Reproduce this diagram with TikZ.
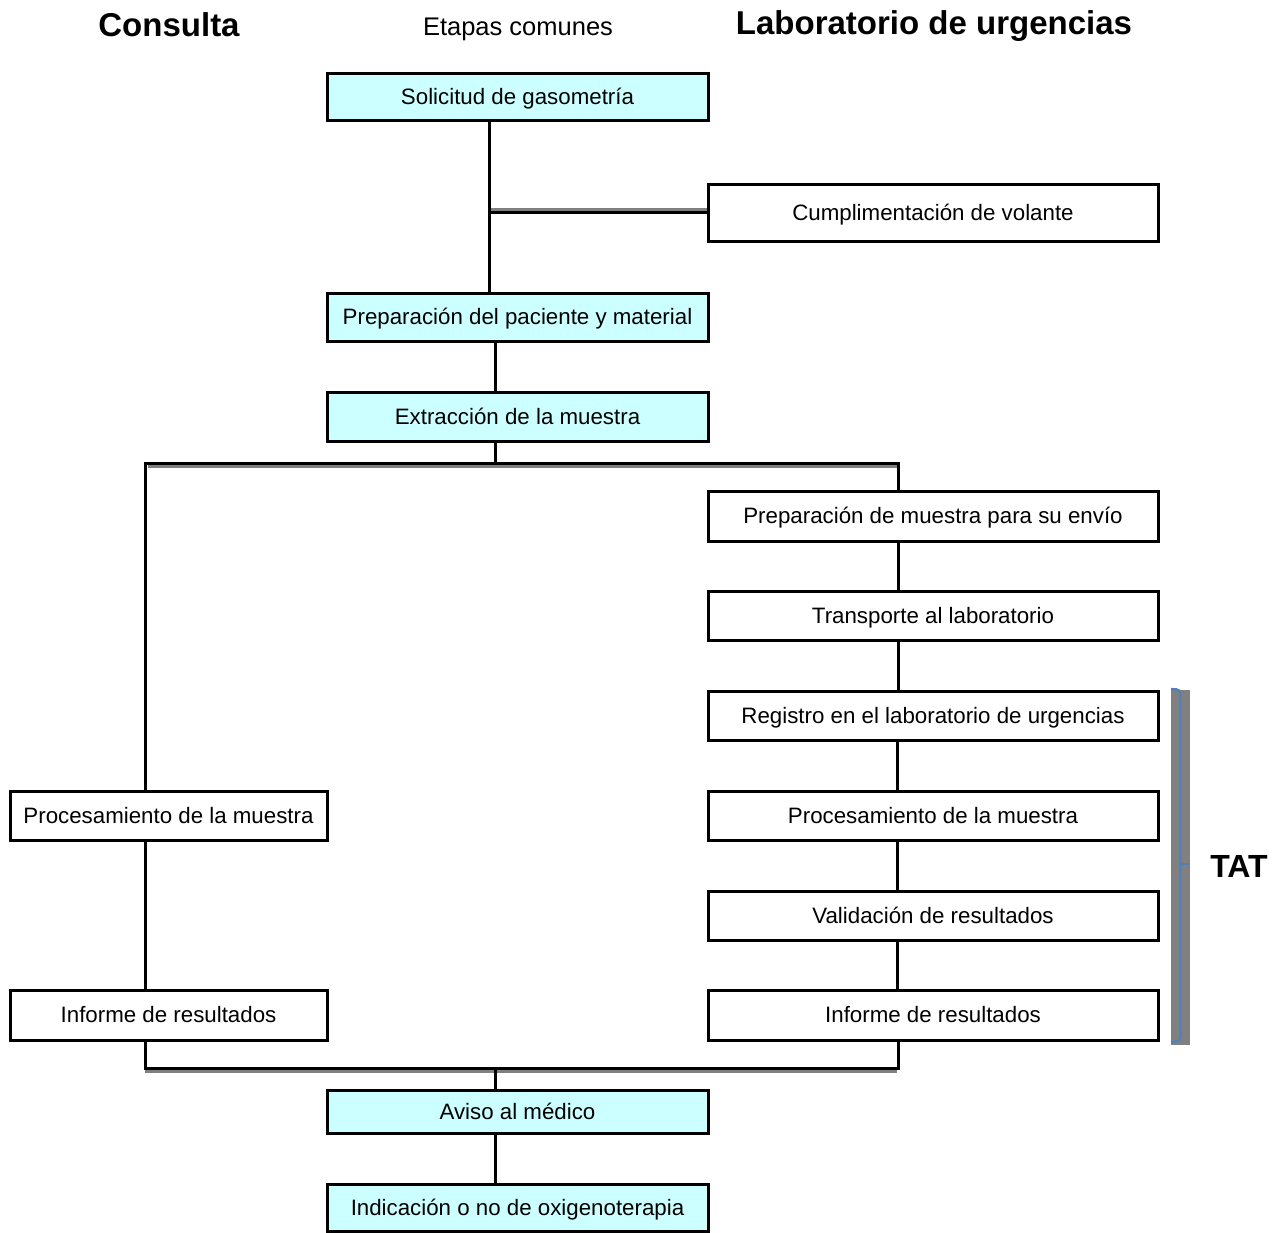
\documentclass[tikz,border=0pt]{standalone}
\usepackage{fontspec}
\setmainfont{Liberation Sans}
\definecolor{boxcyan}{RGB}{204,255,255}
\definecolor{bracegray}{RGB}{128,128,128}
\definecolor{braceblue}{RGB}{79,129,189}
\tikzset{
  basebox/.style={draw=black, line width=3pt, inner sep=0pt, text height=17pt, text depth=1.5pt, font=\fontsize{22.3}{26}\selectfont},
  cbox/.style={basebox, fill=boxcyan, minimum width=381pt},
  rbox/.style={basebox, fill=white, minimum width=450pt},
  lbox/.style={basebox, fill=white, minimum width=317pt},
  conn/.style={draw=black, line width=3pt},
  shadow/.style={draw=bracegray, line width=3pt},
  title/.style={font=\bfseries\fontsize{33}{38}\selectfont},
}
\begin{document}
\begin{tikzpicture}[x=1pt,y=-1pt]
\useasboundingbox (0,0) rectangle (1285,1232);
% titles
\node[title] (tcon) at (169,25) {Consulta};
\node[font=\fontsize{25.5}{30}\selectfont] (tet) at (518,29) {Etapas comunes};
\node[title] (tlab) at (934,26) {Laboratorio de urgencias};
% central boxes
\node[cbox, minimum height=47pt] (sol) at (517.5,96.5) {Solicitud de gasometría};
\node[rbox, minimum height=57pt] (cump) at (933,212.5) {Cumplimentación de volante};
\node[cbox, minimum height=48pt] (prep) at (517.5,317) {Preparación del paciente y material};
\node[cbox, minimum height=49pt] (ext) at (517.5,416.5) {Extracción de la muestra};
% right column
\node[rbox, minimum height=50pt] (prm) at (933,516) {Preparación de muestra para su envío};
\node[rbox, minimum height=49pt] (tra) at (933,615.5) {Transporte al laboratorio};
\node[rbox, minimum height=49pt] (reg) at (933,715.5) {Registro en el laboratorio de urgencias};
\node[rbox, minimum height=49pt] (proR) at (933,815.5) {Procesamiento de la muestra};
\node[rbox, minimum height=49pt] (val) at (933,915.5) {Validación de resultados};
\node[rbox, minimum height=50pt] (infR) at (933,1015) {Informe de resultados};
% left column
\node[lbox, minimum height=49pt] (proL) at (168.5,815.5) {Procesamiento de la muestra};
\node[lbox, minimum height=50pt] (infL) at (168.5,1015) {Informe de resultados};
% bottom
\node[cbox, minimum height=43pt] (avi) at (517.5,1111.5) {Aviso al médico};
\node[cbox, minimum height=47pt] (ind) at (517.5,1207.5) {Indicación o no de oxigenoterapia};
% connectors
\coordinate (sp) at (495,463);
\coordinate (jn) at (495,1068);
\draw[shadow] ([xshift=-216pt,yshift=3pt]cump.west) -- ([yshift=3pt]cump.west);
\draw[conn] ([xshift=-28.5pt]sol.south) -- ([xshift=-28.5pt]prep.north);
\draw[conn] (cump.west) -- ++(-219,0);
\draw[conn] ([xshift=-22.5pt]prep.south) -- ([xshift=-22.5pt]ext.north);
\draw[shadow] (148,466) -- (898,466);
\draw[conn] ([xshift=-22.5pt]ext.south) -- (sp);
\draw[conn] ([xshift=-23.5pt,yshift=-3pt]proL.north) |- (sp) -| ([xshift=-35pt]prm.north);
\draw[conn] ([xshift=-35pt]prm.south) -- ([xshift=-35pt]tra.north);
\draw[conn] ([xshift=-35pt]tra.south) -- ([xshift=-35pt]reg.north);
\draw[conn] ([xshift=-36pt]reg.south) -- ([xshift=-36pt]proR.north);
\draw[conn] ([xshift=-36pt]proR.south) -- ([xshift=-36pt]val.north);
\draw[conn] ([xshift=-36pt]val.south) -- ([xshift=-36pt]infR.north);
\draw[conn] ([xshift=-23.5pt]proL.south) -- ([xshift=-23.5pt]infL.north);
\draw[shadow] (145,1071) -- (897,1071);
\draw[conn] ([xshift=-23.5pt]infL.south) |- (jn) -| ([xshift=-35pt]infR.south);
\draw[conn] (jn) -- ([xshift=-22.5pt]avi.north);
\draw[conn] ([xshift=-22.5pt]avi.south) -- ([xshift=-22.5pt]ind.north);
% TAT brace
\fill[bracegray] (1171,690) rectangle (1190,1045);
\draw[braceblue, line width=2.2pt, rounded corners=4pt] (1171,689) -- (1180.5,689.5) -- (1180.5,1041.5) -- (1171,1042);
\draw[braceblue, line width=2.2pt] (1180.5,864) -- (1190,864);
\node[title, font=\bfseries\fontsize{32}{36}\selectfont] (tat) at (1239,866) {TAT};
\end{tikzpicture}
\end{document}
